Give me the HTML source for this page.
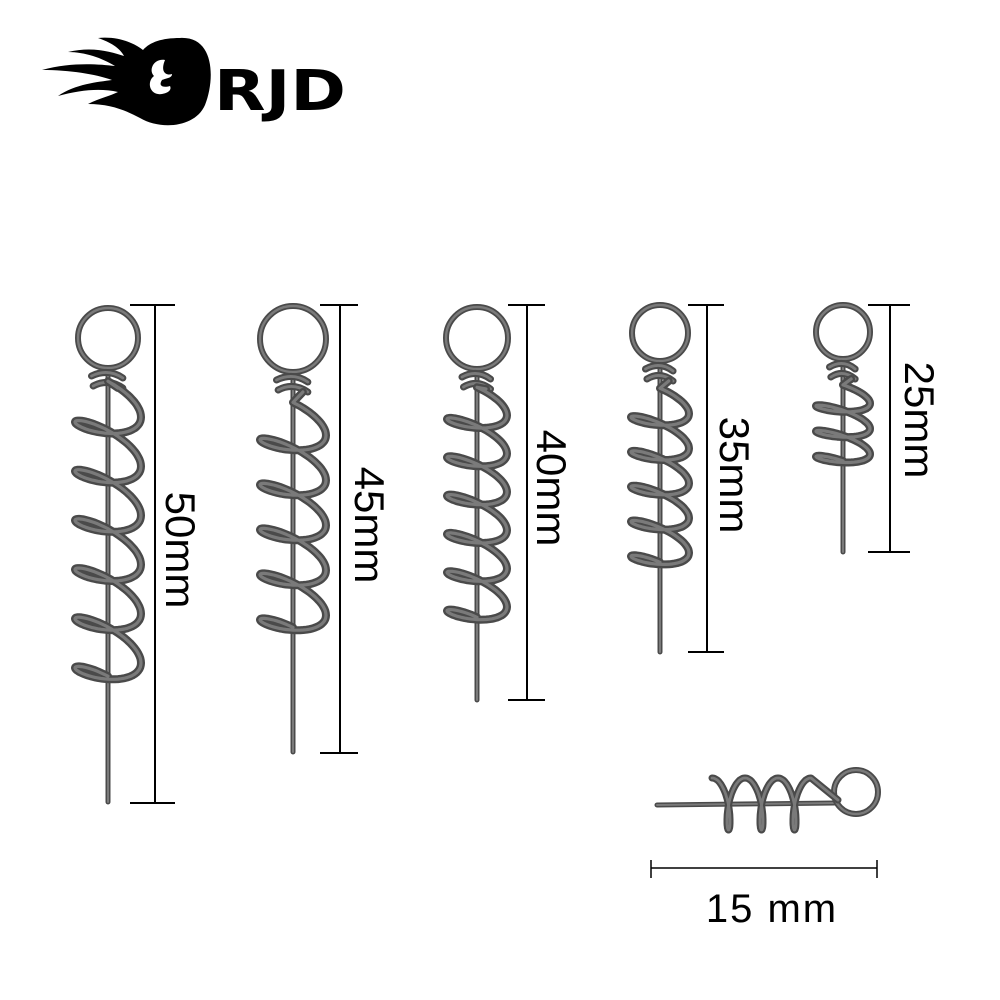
<!DOCTYPE html>
<html><head><meta charset="utf-8"><style>
html,body{margin:0;padding:0;background:#fff;}
svg{display:block}
text{font-family:"Liberation Sans",sans-serif;fill:#000}
</style></head><body>
<svg id="s" width="1000" height="1000" viewBox="0 0 1000 1000" xmlns="http://www.w3.org/2000/svg">
<g fill="#000">
<path d="M180,38 C215,36 215,80 205,105 C195,128 160,130 140,118 C125,110 110,104 88,104 C100,98 110,96 118,92 C100,88 80,90 58,96 C75,84 98,82 112,80 C95,74 70,70 42,70 C70,62 98,64 115,66 C102,58 85,52 68,52 C92,46 112,52 124,56 C120,48 110,42 98,38 C120,36 135,44 143,50 C150,42 162,38 180,38 Z"/>
</g>
<path d="M165,60 C154,58 148,70 154,76 C146,82 150,96 162,94 C168,93 172,90 170,86 C163,88 158,86 162,80 C167,78 172,78 172,74 C166,76 160,72 165,60 Z" fill="#fff"/>
<text x="214" y="110" font-size="56" font-weight="bold" style="font-family:'DejaVu Sans',sans-serif" textLength="132" lengthAdjust="spacingAndGlyphs">RJD</text>
<g id="springs"></g>
<g stroke="#000" stroke-width="2" fill="none">
<path d="M155,305V803M130,305H175M130,803H175"/>
<path d="M340,305V753M320,305H358M320,753H358"/>
<path d="M527,305V700M508,305H545M508,700H545"/>
<path d="M707,305V652M688,305H724M688,652H724"/>
<path d="M890,305V552M868,305H910M868,552H910"/>
<path d="M651,868H877M651,860V878M877,860V878" stroke-width="1.5"/>
</g>
<text font-size="42" transform="translate(166,550) rotate(90)" text-anchor="middle">50mm</text>
<text font-size="42" transform="translate(355,525) rotate(90)" text-anchor="middle">45mm</text>
<text font-size="42" transform="translate(537,488) rotate(90)" text-anchor="middle">40mm</text>
<text font-size="42" transform="translate(720,475) rotate(90)" text-anchor="middle">35mm</text>
<text font-size="42" transform="translate(905,420) rotate(90)" text-anchor="middle">25mm</text>
<text x="772" y="922" font-size="40" text-anchor="middle" letter-spacing="2">15 mm</text>
</svg>
<script>
var NS="http://www.w3.org/2000/svg",G=document.getElementById("springs");
function el(n,a){var e=document.createElementNS(NS,n);for(var k in a)e.setAttribute(k,a[k]);G.appendChild(e);return e;}
function wire(d,w){el("path",{d:d,stroke:"#4a4a4a",fill:"none","stroke-width":w,"stroke-linecap":"round","stroke-linejoin":"round"});
el("path",{d:d,stroke:"#7a7a7a",fill:"none","stroke-width":Math.max(1,w*0.4),"stroke-linecap":"round","stroke-linejoin":"round"});}
function ring(cx,cy,r){el("circle",{cx:cx,cy:cy,r:r,stroke:"#4a4a4a",fill:"none","stroke-width":6});
el("circle",{cx:cx,cy:cy,r:r,stroke:"#7a7a7a",fill:"none","stroke-width":2.4});}
function spring(cx,ry,r,c0,c1,w,turns,bot){
 wire("M"+cx+","+(ry+r)+"L"+cx+","+bot,5);
 ring(cx,ry,r);
 var ny=ry+r+8;
 wire("M"+(cx-w*0.5)+","+ny+"Q"+cx+","+(ny-8)+" "+(cx+w*0.45)+","+(ny+2),7);
 wire("M"+(cx-w*0.45)+","+(ny+10)+"Q"+cx+","+(ny+2)+" "+(cx+w*0.45)+","+(ny+12),7);
 var pts=[],N=turns*60,pitch=(c1-c0)/turns;
 for(var i=0;i<=N;i++){var t=i/60*2*Math.PI;var x=cx+w*Math.sin(t);var y=c0+pitch*t/(2*Math.PI)-pitch*0.28*Math.cos(t)+pitch*0.2*Math.sin(t);pts.push(x.toFixed(1)+","+y.toFixed(1));}
 wire("M"+(cx+w*0.3)+","+(ny+12)+"L"+pts.join(" L"),8);
}
spring(108,338,30,395,690,33,6,802);
spring(293,339,33,415,640,33,5,752);
spring(477,338,31,398,628,30,6,700);
spring(660,333,28,398,572,29,5,652);
spring(843,332,27,392,468,27,3,552);
(function(){
 wire("M657,805L835,803",5);
 ring(856,792,22);
 var pts=[];for(var i=0;i<=180;i++){var t=i/60*2*Math.PI;var y=804-26*Math.cos(t);var x=712+33*t/(2*Math.PI)+8*Math.sin(t);pts.push(x.toFixed(1)+","+y.toFixed(1));}
 wire("M"+pts.join(" L")+" L838,800",7);
})();
</script>
</body></html>
